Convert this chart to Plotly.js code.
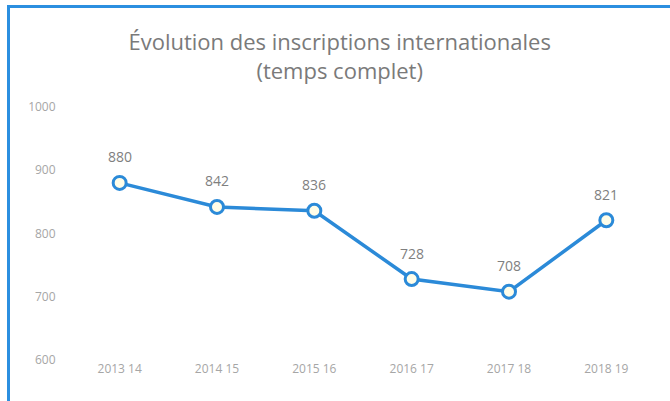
<!DOCTYPE html>
<html><head><meta charset="utf-8">
<script src="https://cdn.plot.ly/plotly-3.0.1.min.js"></script>
<style>
html,body{margin:0;padding:0;background:#fff;}
#wrap{position:relative;width:670px;height:401px;}
#chart{position:absolute;left:0;top:0;width:670px;height:401px;}
#frame{position:absolute;left:7px;top:5px;width:663px;height:396px;border-left:3px solid #2b8fe0;border-top:3px solid #2b8fe0;pointer-events:none;}
</style></head>
<body><div id="wrap"><div id="chart"></div><div id="frame"></div></div>
<script>
const categories = ["2013 14","2014 15","2015 16","2016 17","2017 18","2018 19"];
const values = [880, 842, 836, 728, 708, 821];
const yTicks = [600, 700, 800, 900, 1000];

const trace = {
  type: 'scatter', mode: 'lines+markers',
  x: categories, y: values,
  line: {color: '#2b8ad8', width: 3.5},
  marker: {size: 13, color: '#fffde8', line: {color: '#2b8ad8', width: 3}},
  cliponaxis: false, hoverinfo: 'none'
};
const annotations = categories.map((c, i) => ({
  x: c, y: values[i], xref: 'x', yref: 'y', text: String(values[i]),
  showarrow: false, yshift: 26, yanchor: 'middle',
  font: {family: 'Open Sans, sans-serif', size: 14, color: '#7f7f7f'}
}));
const layout = {
  width: 670, height: 401,
  margin: {l: 71, r: 15, t: 107, b: 41},
  paper_bgcolor: '#fff', plot_bgcolor: '#fff',
  showlegend: false,
  annotations: annotations,
  title: {text: 'Évolution des inscriptions internationales<br>(temps complet)',
    font: {family: 'Open Sans, sans-serif', size: 22, color: '#7a7a7a', lineposition: 'none'},
    x: 0.507, xanchor: 'center', y: 0.875, yanchor: 'top'},
  xaxis: {type: 'category', range: [-0.5, 5.5], showgrid: false, zeroline: false, showline: false,
    ticks: '', tickfont: {family: 'Open Sans, sans-serif', size: 12, color: '#a6a6a6'}},
  yaxis: {range: [600, 1000], tickvals: yTicks, ticktext: yTicks.map(String), showgrid: false,
    zeroline: false, showline: false, ticks: 'outside', ticklen: 12, tickcolor: 'rgba(0,0,0,0)',
    tickfont: {family: 'Open Sans, sans-serif', size: 12, color: '#a6a6a6'}}
};
Plotly.newPlot('chart', [trace], layout, {staticPlot: true, displayModeBar: false});
</script></body></html>
